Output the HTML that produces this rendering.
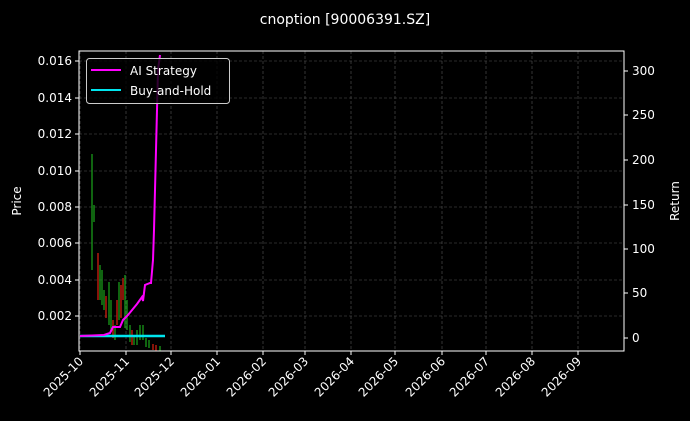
<!DOCTYPE html><html><head><style>body{margin:0;background:#000}svg{display:block}text{font-family:"DejaVu Sans","Liberation Sans",sans-serif;fill:#fff}</style></head><body>
<svg width="690" height="421" xmlns="http://www.w3.org/2000/svg">
<rect width="690" height="421" fill="#000"/>
<text x="345" y="24" font-size="14" text-anchor="middle">cnoption [90006391.SZ]</text>
<g stroke="#555" stroke-width="0.6" stroke-dasharray="3,2">
<line x1="79" x2="624" y1="61" y2="61"/><line x1="79" x2="624" y1="98" y2="98"/><line x1="79" x2="624" y1="134" y2="134"/><line x1="79" x2="624" y1="171" y2="171"/><line x1="79" x2="624" y1="207" y2="207"/><line x1="79" x2="624" y1="243" y2="243"/><line x1="79" x2="624" y1="280" y2="280"/><line x1="79" x2="624" y1="316" y2="316"/>
<line y1="51" y2="351" x1="80" x2="80"/><line y1="51" y2="351" x1="126" x2="126"/><line y1="51" y2="351" x1="171" x2="171"/><line y1="51" y2="351" x1="217" x2="217"/><line y1="51" y2="351" x1="263" x2="263"/><line y1="51" y2="351" x1="305" x2="305"/><line y1="51" y2="351" x1="351" x2="351"/><line y1="51" y2="351" x1="395" x2="395"/><line y1="51" y2="351" x1="442" x2="442"/><line y1="51" y2="351" x1="486" x2="486"/><line y1="51" y2="351" x1="532" x2="532"/><line y1="51" y2="351" x1="578" x2="578"/>
</g>
<g stroke-width="1.3">
<line x1="92" x2="92" y1="154" y2="270" stroke="#1a9a1a"/><line x1="94" x2="94" y1="205" y2="222" stroke="#1a9a1a"/>
<line x1="98" x2="98" y1="253" y2="300" stroke="#d02010"/><line x1="100" x2="100" y1="265" y2="300" stroke="#1a9a1a"/>
<line x1="102" x2="102" y1="270" y2="305" stroke="#1a9a1a"/><line x1="104" x2="104" y1="290" y2="310" stroke="#1a9a1a"/>
<line x1="106" x2="106" y1="296" y2="318" stroke="#d02010"/><line x1="109" x2="109" y1="282" y2="325" stroke="#1a9a1a"/>
<line x1="111" x2="111" y1="300" y2="332" stroke="#1a9a1a"/><line x1="113" x2="113" y1="320" y2="338" stroke="#d02010"/>
<line x1="115" x2="115" y1="325" y2="340" stroke="#1a9a1a"/><line x1="117" x2="117" y1="300" y2="325" stroke="#d02010"/>
<line x1="119" x2="119" y1="282" y2="320" stroke="#1a9a1a"/><line x1="121" x2="121" y1="285" y2="318" stroke="#d02010"/>
<line x1="123" x2="123" y1="278" y2="300" stroke="#d02010"/><line x1="125" x2="125" y1="275" y2="328" stroke="#1a9a1a"/>
<line x1="127" x2="127" y1="300" y2="330" stroke="#1a9a1a"/><line x1="130" x2="130" y1="325" y2="342" stroke="#1a9a1a"/>
<line x1="132" x2="132" y1="330" y2="345" stroke="#d02010"/><line x1="134" x2="134" y1="335" y2="345" stroke="#1a9a1a"/>
<line x1="137" x2="137" y1="330" y2="345" stroke="#1a9a1a"/><line x1="140" x2="140" y1="325" y2="340" stroke="#1a9a1a"/>
<line x1="143" x2="143" y1="325" y2="340" stroke="#1a9a1a"/><line x1="146" x2="146" y1="338" y2="347" stroke="#1a9a1a"/>
<line x1="149" x2="149" y1="340" y2="348" stroke="#1a9a1a"/><line x1="153" x2="153" y1="344" y2="350" stroke="#d02010"/>
<line x1="156" x2="156" y1="345" y2="351" stroke="#d02010"/><line x1="160" x2="160" y1="346" y2="351" stroke="#1a9a1a"/>
</g>
<polyline fill="none" stroke="#00e5ee" stroke-width="2.5" points="80,336 165,336"/>
<polyline fill="none" stroke="#ff00ff" stroke-width="2" points="80,336 104,335 110,333 113,327 120,327 123,320 128,315 137,304 142,297 143,301 145,285 150,283 151,283 153,260 154,230 156,150 158,70 160,55"/>
<rect x="79" y="51" width="545" height="300" fill="none" stroke="#fff" stroke-width="1"/>
<g stroke="#fff"><line x1="75" x2="79" y1="61" y2="61"/><line x1="75" x2="79" y1="98" y2="98"/><line x1="75" x2="79" y1="134" y2="134"/><line x1="75" x2="79" y1="171" y2="171"/><line x1="75" x2="79" y1="207" y2="207"/><line x1="75" x2="79" y1="243" y2="243"/><line x1="75" x2="79" y1="280" y2="280"/><line x1="75" x2="79" y1="316" y2="316"/>
<line x1="624" x2="628" y1="71" y2="71"/><line x1="624" x2="628" y1="115" y2="115"/><line x1="624" x2="628" y1="160" y2="160"/><line x1="624" x2="628" y1="205" y2="205"/><line x1="624" x2="628" y1="249" y2="249"/><line x1="624" x2="628" y1="293" y2="293"/><line x1="624" x2="628" y1="338" y2="338"/></g>
<g font-size="12" text-anchor="end"><text x="72" y="65">0.016</text><text x="72" y="102">0.014</text><text x="72" y="138">0.012</text><text x="72" y="175">0.010</text><text x="72" y="211">0.008</text><text x="72" y="247">0.006</text><text x="72" y="284">0.004</text><text x="72" y="320">0.002</text></g>
<g font-size="12"><text x="632" y="75">300</text><text x="632" y="119">250</text><text x="632" y="164">200</text><text x="632" y="209">150</text><text x="632" y="253">100</text><text x="632" y="297">50</text><text x="632" y="342">0</text></g>
<text font-size="12" transform="translate(21,201) rotate(-90)" text-anchor="middle">Price</text>
<text font-size="12" transform="translate(679,201) rotate(-90)" text-anchor="middle">Return</text>
<g stroke="#fff"><line y1="351" y2="355" x1="80" x2="80"/><line y1="351" y2="355" x1="126" x2="126"/><line y1="351" y2="355" x1="171" x2="171"/><line y1="351" y2="355" x1="217" x2="217"/><line y1="351" y2="355" x1="263" x2="263"/><line y1="351" y2="355" x1="305" x2="305"/><line y1="351" y2="355" x1="351" x2="351"/><line y1="351" y2="355" x1="395" x2="395"/><line y1="351" y2="355" x1="442" x2="442"/><line y1="351" y2="355" x1="486" x2="486"/><line y1="351" y2="355" x1="532" x2="532"/><line y1="351" y2="355" x1="578" x2="578"/></g>
<g font-size="12" text-anchor="end">
<text transform="translate(84,362) rotate(-45)">2025-10</text><text transform="translate(130,362) rotate(-45)">2025-11</text><text transform="translate(175,362) rotate(-45)">2025-12</text><text transform="translate(221,362) rotate(-45)">2026-01</text><text transform="translate(267,362) rotate(-45)">2026-02</text><text transform="translate(309,362) rotate(-45)">2026-03</text><text transform="translate(355,362) rotate(-45)">2026-04</text><text transform="translate(399,362) rotate(-45)">2026-05</text><text transform="translate(446,362) rotate(-45)">2026-06</text><text transform="translate(490,362) rotate(-45)">2026-07</text><text transform="translate(536,362) rotate(-45)">2026-08</text><text transform="translate(582,362) rotate(-45)">2026-09</text></g>
<rect x="86.5" y="58.5" width="143" height="45" rx="3" fill="#000" fill-opacity="0.8" stroke="#ccc"/>
<line x1="91" x2="121" y1="70" y2="70" stroke="#ff00ff" stroke-width="2"/><text x="130" y="75" font-size="12">AI Strategy</text>
<line x1="91" x2="121" y1="90" y2="90" stroke="#00e5ee" stroke-width="2"/><text x="130" y="95" font-size="12">Buy-and-Hold</text>
</svg></body></html>
